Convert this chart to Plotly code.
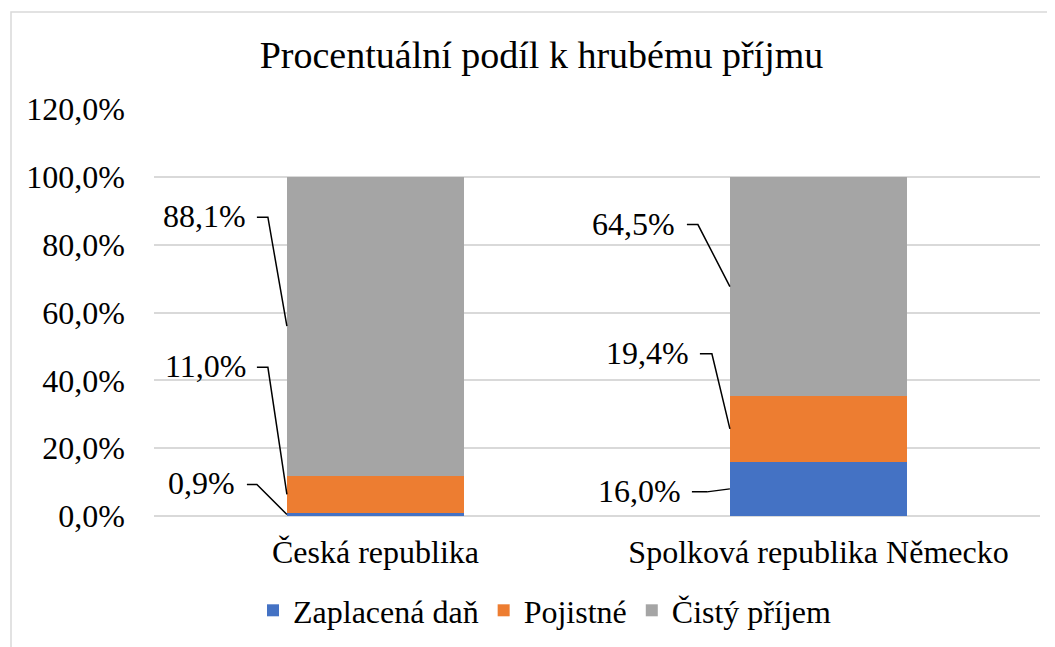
import plotly.graph_objects as go

categories = ["Česká republika", "Spolková republika Německo"]
series_names = ["Zaplacená daň", "Pojistné", "Čistý příjem"]
dan = [0.009, 0.160]
pojistne = [0.110, 0.194]
cisty = [0.881, 0.645]
series_values = [dan, pojistne, cisty]
colors = ["#4472C4", "#ED7D31", "#A5A5A5"]
y_ticks = [0, 0.2, 0.4, 0.6, 0.8, 1.0, 1.2]

FONT = "Times New Roman, Liberation Serif, serif"
BAR_W = 0.4

# label callout offsets (pixels) per [category][series]: (text_dx, line_dy, elbow_x0, elbow_x1)
callouts = [
    [(-50, 30, -40, -30), (-39, 127, -30, -19), (-39, 109, -30, -19)],
    [(-47, -3, -38, -23), (-39, 75, -30, -18), (-53, 62, -43, -32)],
]

fig = go.Figure()
for name, vals, col in zip(series_names, series_values, colors):
    fig.add_trace(go.Bar(
        name=name, x=categories, y=vals, width=BAR_W,
        marker=dict(color=col, line=dict(width=0)),
        hoverinfo="skip",
    ))

annotations = []
shapes = []
for ci in range(len(categories)):
    base = 0.0
    left = ci - BAR_W / 2
    for si, vals in enumerate(series_values):
        v = vals[ci]
        mid = base + v / 2
        base += v
        tdx, dy, ex0, ex1 = callouts[ci][si]
        label = f"{v*100:.1f}%".replace(".", ",")
        annotations.append(dict(
            x=left, y=mid, xref="x", yref="y", text=label, showarrow=False,
            xanchor="right", yanchor="middle", xshift=tdx, yshift=dy + 1,
            font=dict(family=FONT, size=32, color="#000000"),
        ))
        shapes.append(dict(
            type="path", xref="x", yref="y",
            xsizemode="pixel", ysizemode="pixel",
            xanchor=left, yanchor=mid,
            path=f"M {ex0},{dy} L {ex1},{dy} L 0,0",
            line=dict(color="#000000", width=1.5),
        ))

# outer chart border (chart-area frame)
shapes.append(dict(type="rect", xref="paper", yref="paper",
                   x0=(3 - 146) / 886, x1=1.2,
                   y0=-0.6, y1=1 + (101 - 4) / 407,
                   line=dict(color="#D9D9D9", width=1.5), layer="below"))

fig.update_layout(
    width=1055, height=647,
    barmode="stack",
    bargap=0.6,
    separators=", ",
    paper_bgcolor="white", plot_bgcolor="white",
    margin=dict(l=146, r=23, t=101, b=139, autoexpand=False),
    font=dict(family=FONT, size=32, color="#000000"),
    title=dict(text="Procentuální podíl k hrubému příjmu",
               x=(541.5 - 8) / 1055, xref="container", xanchor="center",
               y=1 - 47 / 647, yref="container", yanchor="middle",
               font=dict(family=FONT, size=38, color="#000000")),
    legend=dict(orientation="h", x=(544.5 - 8) / 1055, xanchor="center", xref="container",
                y=1 - 575 / 647, yref="container", yanchor="top",
                font=dict(family=FONT, size=32, color="#000000"),
                itemwidth=30, traceorder="normal"),
    annotations=annotations,
    shapes=shapes,
)
fig.update_yaxes(range=[0, 1.2], tickvals=y_ticks, tickformat=".1%",
                 showgrid=True, gridcolor="#D9D9D9", gridwidth=1.5,
                 zeroline=True, zerolinecolor="#D9D9D9", zerolinewidth=1.5,
                 showline=False, ticks="", ticklabelstandoff=28,
                 tickfont=dict(family=FONT, size=32, color="#000000"))
fig.update_xaxes(showline=False, ticks="", ticklabelstandoff=14,
                 tickfont=dict(family=FONT, size=32, color="#000000"))

fig.write_html("out.html")
